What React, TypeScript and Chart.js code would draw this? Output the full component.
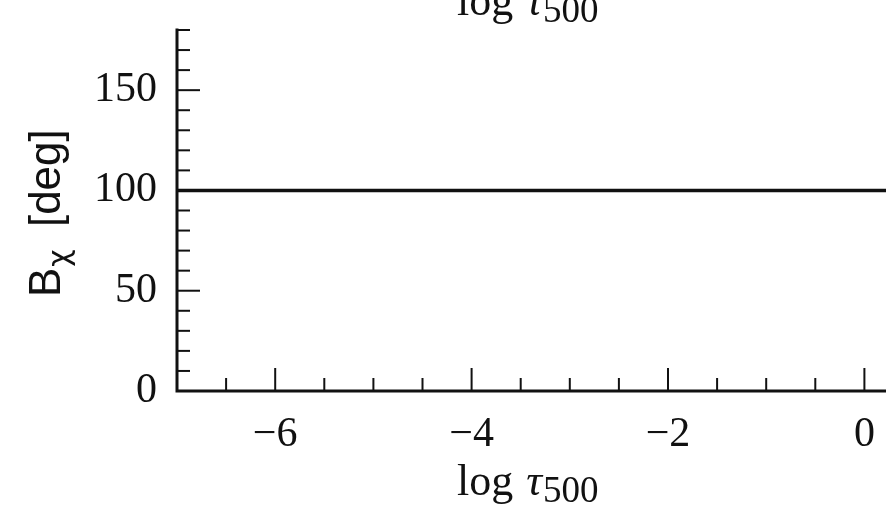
import React, { useEffect, useRef } from "react";
import { Chart, registerables } from "chart.js";

Chart.register(...registerables);

// Data
const logTau = [-7, -6, -5, -4, -3, -2, -1, 0, 1];
const bChi = [100, 100, 100, 100, 100, 100, 100, 100, 100];
const xMajorTicks = [-6, -4, -2, 0];
const yMajorTicks = [0, 50, 100, 150];
const xMinorStep = 0.5;
const yMinorStep = 10;
const xRange = [-7, 0.22];
const yRange = [0, 180];

const SERIF = "'Liberation Serif', 'Times New Roman', serif";
const SANS = "'Liberation Sans', Arial, sans-serif";

function fmt(v: number): string {
  return v < 0 ? "\u2212" + Math.abs(v) : String(v);
}

function drawLogTau(ctx: CanvasRenderingContext2D, x: number, baseline: number) {
  ctx.save();
  ctx.fillStyle = "#111";
  ctx.textBaseline = "alphabetic";
  ctx.textAlign = "left";
  ctx.font = `44px ${SERIF}`;
  ctx.fillText("log", x, baseline);
  let cx = x + ctx.measureText("log ").width + 2;
  ctx.font = `italic 44px ${SERIF}`;
  ctx.fillText("\u03c4", cx, baseline);
  cx += ctx.measureText("\u03c4").width + 1;
  ctx.font = `37px ${SERIF}`;
  ctx.fillText("500", cx, baseline + 7);
  ctx.restore();
}

const decorPlugin = {
  id: "decor",
  afterDraw(chart: any) {
    const ctx: CanvasRenderingContext2D = chart.ctx;
    const xs = chart.scales.x;
    const ys = chart.scales.y;
    const area = chart.chartArea;
    ctx.save();
    ctx.strokeStyle = "#111";
    // spines
    ctx.lineWidth = 3;
    ctx.lineCap = "square";
    ctx.beginPath();
    ctx.moveTo(area.left, area.top);
    ctx.lineTo(area.left, area.bottom);
    ctx.lineTo(area.right + 2, area.bottom);
    ctx.stroke();
    // ticks
    ctx.lineCap = "butt";
    ctx.lineWidth = 2;
    const majorLen = 23;
    const minorLen = 13;
    for (let v = xRange[0]; v <= xRange[1] + 1e-9; v += xMinorStep) {
      const r = Math.round(v * 100) / 100;
      if (Math.abs(r - xRange[0]) < 1e-9) continue;
      const major = xMajorTicks.some((t) => Math.abs(t - r) < 1e-9);
      const px = xs.getPixelForValue(r);
      ctx.beginPath();
      ctx.moveTo(px, area.bottom);
      ctx.lineTo(px, area.bottom - (major ? majorLen : minorLen));
      ctx.stroke();
    }
    for (let v = yRange[0] + yMinorStep; v <= yRange[1] + 1e-9; v += yMinorStep) {
      const major = yMajorTicks.includes(v);
      const py = ys.getPixelForValue(v);
      ctx.beginPath();
      ctx.moveTo(area.left, py);
      ctx.lineTo(area.left + (major ? majorLen : minorLen), py);
      ctx.stroke();
    }
    ctx.restore();

    // x axis title (this panel) and the one of the panel above (cropped)
    drawLogTau(ctx, 457, 495);
    drawLogTau(ctx, 457, 15);

    // y axis title
    ctx.save();
    ctx.fillStyle = "#111";
    ctx.translate(60, 297);
    ctx.rotate(-Math.PI / 2);
    ctx.textBaseline = "alphabetic";
    ctx.textAlign = "left";
    ctx.font = `44px ${SANS}`;
    ctx.fillText("B", 0, 0);
    let cx = ctx.measureText("B").width + 1;
    ctx.font = `30px 'DejaVu Sans', ${SANS}`;
    ctx.fillText("\u03c7", cx, 9);
    cx += ctx.measureText("\u03c7").width + 10;
    ctx.font = `44px ${SANS}`;
    ctx.fillText(" [deg]", cx, 0);
    ctx.restore();
  },
};

export default function App() {
  const ref = useRef<HTMLCanvasElement | null>(null);
  useEffect(() => {
    if (!ref.current) return;
    const chart = new Chart(ref.current, {
      type: "line",
      data: {
        datasets: [
          {
            data: logTau.map((x, i) => ({ x, y: bChi[i] })),
            borderColor: "#111",
            borderWidth: 3.5,
            pointRadius: 0,
            tension: 0,
          },
        ],
      },
      options: {
        animation: false,
        responsive: false,
        maintainAspectRatio: false,
        events: [],
        layout: { padding: { top: 30, right: 0, left: 0, bottom: 0 } },
        plugins: { legend: { display: false }, tooltip: { enabled: false } },
        scales: {
          x: {
            type: "linear",
            min: xRange[0],
            max: xRange[1],
            grid: { display: false, drawTicks: false },
            border: { display: false },
            afterBuildTicks: (s: any) => {
              s.ticks = xMajorTicks.map((v) => ({ value: v }));
            },
            afterFit: (s: any) => {
              s.height = 118;
              s.paddingLeft = 0;
              s.paddingRight = 0;
            },
            ticks: {
              padding: 19,
              color: "#111",
              font: { family: SERIF, size: 42 },
              callback: (v: any) => fmt(Number(v)),
              maxRotation: 0,
              autoSkip: false,
            },
          },
          y: {
            type: "linear",
            min: yRange[0],
            max: yRange[1],
            grid: { display: false, drawTicks: false },
            border: { display: false },
            afterBuildTicks: (s: any) => {
              s.ticks = yMajorTicks.map((v) => ({ value: v }));
            },
            afterFit: (s: any) => {
              s.width = 177;
              s.paddingTop = 0;
              s.paddingBottom = 0;
            },
            ticks: {
              padding: 20,
              color: "#111",
              font: { family: SERIF, size: 42 },
              callback: (v: any) => fmt(Number(v)),
              autoSkip: false,
            },
          },
        },
      },
      plugins: [decorPlugin],
    });
    return () => chart.destroy();
  }, []);
  return (
    <div style={{ position: "fixed", left: 0, top: 0, width: 886, height: 509, background: "#fff" }}>
      <canvas ref={ref} width={886} height={509} style={{ display: "block", width: 886, height: 509 }} />
    </div>
  );
}
